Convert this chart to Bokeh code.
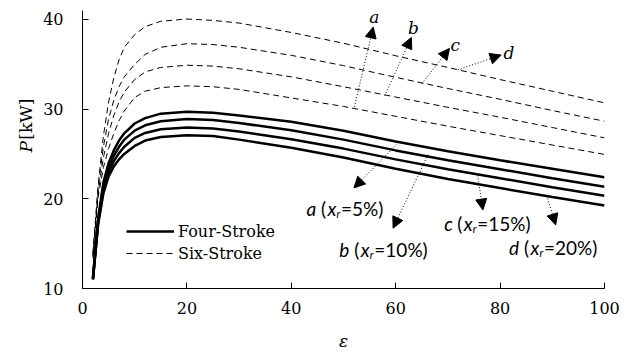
import math
from bokeh.plotting import figure
from bokeh.layouts import row
from bokeh.models import (Range1d, FixedTicker, Legend, LegendItem, Arrow,
                          NormalHead, Label, ColumnDataSource)
from bokeh.core.properties import value
from bokeh.embed import file_html
from bokeh.resources import INLINE

# ---------------- data ----------------
eps = [2, 3, 4, 5, 6, 7, 8, 10, 12, 15, 20, 25, 30, 40, 50, 60, 70, 80, 90, 100]

four_a = [11.2, 17.8, 21.8, 24.0, 25.4, 26.5, 27.3, 28.4, 29.0, 29.5, 29.7, 29.6, 29.3, 28.6, 27.6, 26.4, 25.3, 24.3, 23.35, 22.4]
four_b = [11.1, 17.6, 21.4, 23.5, 24.8, 25.8, 26.6, 27.6, 28.2, 28.65, 28.9, 28.8, 28.45, 27.65, 26.6, 25.4, 24.3, 23.3, 22.3, 21.35]
four_c = [11.05, 17.4, 21.0, 23.0, 24.2, 25.1, 25.8, 26.8, 27.35, 27.75, 27.95, 27.85, 27.5, 26.65, 25.6, 24.4, 23.3, 22.3, 21.3, 20.35]
four_d = [11.0, 17.2, 20.6, 22.5, 23.6, 24.4, 25.0, 25.9, 26.5, 26.9, 27.1, 27.0, 26.6, 25.7, 24.6, 23.35, 22.2, 21.2, 20.2, 19.25]

six_a = [13.4, 20.2, 23.5, 25.6, 27.3, 28.7, 29.8, 31.3, 32.0, 32.4, 32.6, 32.5, 32.2, 31.25, 30.3, 29.2, 28.1, 27.05, 26.0, 24.95]
six_b = [13.6, 20.7, 24.6, 27.3, 29.3, 30.8, 31.9, 33.3, 34.15, 34.65, 34.9, 34.8, 34.5, 33.6, 32.5, 31.35, 30.2, 29.1, 27.95, 26.8]
six_c = [13.8, 21.3, 25.8, 28.9, 31.0, 32.5, 33.6, 35.0, 36.1, 36.9, 37.3, 37.2, 36.9, 36.0, 34.85, 33.55, 32.3, 31.1, 29.85, 28.65]
six_d = [14.0, 21.5, 27.0, 30.8, 33.5, 35.5, 36.9, 38.3, 39.2, 39.8, 40.05, 39.9, 39.6, 38.55, 37.35, 35.95, 34.65, 33.3, 32.0, 30.7]

x_ticks = [0, 20, 40, 60, 80, 100]
y_ticks = [10, 20, 30, 40]

series_names = ["Four-Stroke", "Six-Stroke"]
curve_letters = ["a", "b", "c", "d"]
xr_labels = ["=5%)", "=10%)", "=15%)", "=20%)"]
y_title_parts = ["P", "[kW]"]
x_title = "ε"

# annotation anchors (data units)
six_arrow_tail = [(52.1, 30.26), (57.9, 31.51), (65.0, 32.84), (71.9, 34.38)]
six_arrow_tip = [(55.7, 39.16), (63.0, 37.99), (70.3, 36.77), (80.2, 36.03)]
six_letter_pos = [(55.9, 40.23), (63.4, 39.01), (71.4, 37.14), (81.7, 36.25)]

four_arrow_tail = [(60.55, 26.29), (66.2, 24.93), (75.7, 22.61), (89.1, 20.04)]
four_arrow_tip = [(52.0, 21.22), (59.5, 16.73), (76.7, 18.75), (90.65, 17.09)]
four_label_x = [42.9, 49.2, 69.3, 81.7]
four_label_y = [18.94, 14.30, 17.28, 14.52]

SERIF = "DejaVu Serif"
SANS = "Lato"

LEFT_W = 40
H = 353

# ---------- narrow strip holding the y-axis title ----------
yt = figure(width=LEFT_W, height=H, output_backend="svg", toolbar_location=None,
            x_range=Range1d(0, LEFT_W), y_range=Range1d(H, 0),
            min_border=0, x_axis_type=None, y_axis_type=None)
yt.grid.visible = False
yt.outline_line_color = None
yt.background_fill_color = "white"
yt.border_fill_color = "white"
yt.text(x=[25], y=[173], text=[y_title_parts[0]], angle=math.pi / 2,
        text_font=value(SERIF), text_font_style="italic", text_font_size=value("17px"),
        text_align="center", text_baseline="middle", text_color="black")
yt.text(x=[25], y=[138], text=[y_title_parts[1]], angle=math.pi / 2,
        text_font=value(SERIF), text_font_size=value("17px"),
        text_align="center", text_baseline="middle", text_color="black")

# ---------- main chart ----------
p = figure(width=631 - LEFT_W, height=H, output_backend="svg", toolbar_location=None,
           x_range=Range1d(0, 100), y_range=Range1d(10, 41),
           min_border_left=80 - LEFT_W, min_border_right=27, min_border_top=10,
           min_border_bottom=62)
p.grid.visible = False
p.outline_line_color = None
p.background_fill_color = "white"
p.border_fill_color = "white"

for ax in (p.xaxis[0], p.yaxis[0]):
    ax.axis_line_color = "black"
    ax.axis_line_width = 1
    ax.major_tick_in = 6
    ax.major_tick_out = 0
    ax.minor_tick_in = 0
    ax.minor_tick_out = 0
    ax.major_tick_line_color = "black"
    ax.major_label_text_font = SERIF
    ax.major_label_text_font_size = "16px"
    ax.major_label_text_color = "black"
p.xaxis.ticker = FixedTicker(ticks=x_ticks)
p.yaxis.ticker = FixedTicker(ticks=y_ticks)
p.xaxis.major_label_standoff = 13
p.yaxis.major_label_standoff = 19
p.xaxis.axis_label = x_title
p.xaxis.axis_label_text_font = SERIF
p.xaxis.axis_label_text_font_style = "italic"
p.xaxis.axis_label_text_font_size = "17px"
p.xaxis.axis_label_text_color = "black"
p.xaxis.axis_label_standoff = 14

four_renderers = []
for ys in [four_a, four_b, four_c, four_d]:
    four_renderers.append(p.line(eps, ys, line_color="black", line_width=2.5))
six_renderers = []
for ys in [six_a, six_b, six_c, six_d]:
    six_renderers.append(p.line(eps, ys, line_color="black", line_width=1,
                                line_dash="6 4"))

legend = Legend(items=[LegendItem(label=series_names[0], renderers=[four_renderers[0]]),
                       LegendItem(label=series_names[1], renderers=[six_renderers[0]])],
                location=(44, 25), padding=0, margin=0, spacing=2,
                glyph_width=48, glyph_height=20, label_height=20, label_standoff=4,
                border_line_color=None, background_fill_alpha=0,
                label_text_font=SERIF, label_text_font_size="16px",
                label_text_color="black")
p.add_layout(legend)

def add_arrow(tail, tip):
    p.add_layout(Arrow(end=NormalHead(size=11, fill_color="black", line_color="black",
                                      line_width=1),
                       x_start=tail[0], y_start=tail[1], x_end=tip[0], y_end=tip[1],
                       line_color="black", line_width=1, line_dash="1 2"))

for t, h in zip(six_arrow_tail, six_arrow_tip):
    add_arrow(t, h)
for t, h in zip(four_arrow_tail, four_arrow_tip):
    add_arrow(t, h)

for (lx, ly), letter in zip(six_letter_pos, curve_letters):
    p.add_layout(Label(x=lx, y=ly, text=letter, text_font=SERIF, text_font_style="italic",
                       text_font_size="17px", text_align="center", text_baseline="middle",
                       text_color="black"))

# four-stroke labels: letter (x_r=..%)
letter_w = [10.0, 10.5, 8.5, 10.5]
space_w = 4.5
paren_w = 6.5
x_w = 9.0
r_w = 4.5
src = ColumnDataSource(dict(
    x=four_label_x, y=four_label_y, letter=curve_letters,
    paren=["("] * 4, xx=["x"] * 4, rr=["r"] * 4, pct=xr_labels,
    o1=[0.0] * 4,
    o2=[w + space_w for w in letter_w],
    o3=[w + space_w + paren_w for w in letter_w],
    o4=[w + space_w + paren_w + x_w for w in letter_w],
    o5=[w + space_w + paren_w + x_w + r_w for w in letter_w],
))
common = dict(source=src, text_font=value(SANS), text_baseline="middle",
              text_align="left", text_color="black")
p.text(x="x", y="y", text="letter", x_offset="o1", text_font_style="italic",
       text_font_size=value("19px"), **common)
p.text(x="x", y="y", text="paren", x_offset="o2", text_font_size=value("19px"), **common)
p.text(x="x", y="y", text="xx", x_offset="o3", text_font_style="italic",
       text_font_size=value("19px"), **common)
p.text(x="x", y="y", text="rr", x_offset="o4", y_offset=5, text_font_style="italic",
       text_font_size=value("11px"), **common)
p.text(x="x", y="y", text="pct", x_offset="o5", text_font_size=value("19px"), **common)

layout = row(yt, p, spacing=0)
open("out.html", "w").write(file_html(layout, INLINE))
